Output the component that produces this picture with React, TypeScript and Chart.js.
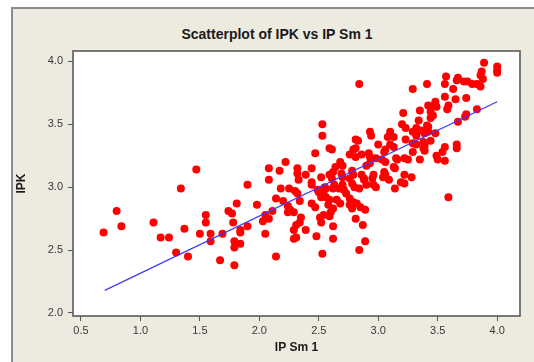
import React, { useEffect, useRef } from 'react';
import { Chart, registerables } from 'chart.js';

Chart.register(...registerables);

// IP Sm 1 (x) values
const ipSm1 = [
  0.69, 0.80, 0.84, 1.11, 1.17, 1.24, 1.34, 1.37, 1.30, 1.40, 1.47, 1.50, 1.55, 1.55, 1.59, 1.59,
  1.67, 1.69, 1.74, 1.77, 1.81, 1.78, 1.84, 1.84, 1.79, 1.79, 1.84, 1.79, 1.90, 1.90, 2.14, 1.98,
  2.53, 2.53, 2.47, 2.22, 2.08, 2.17, 2.32, 2.32, 2.39, 2.44, 2.52, 2.08, 2.33, 2.44, 2.44, 2.18,
  2.25, 2.30, 2.32, 2.49, 2.50, 2.55, 2.14, 2.20, 2.24, 2.26, 2.24, 2.34, 2.44, 2.47, 2.52, 2.11,
  2.29, 2.05, 2.03, 2.08, 2.35, 2.34, 2.31, 2.29, 2.39, 2.51, 2.52, 2.05, 2.48, 2.29, 2.31, 2.53,
  2.81, 2.83, 2.93, 2.94, 2.59, 2.61, 3.00, 2.79, 2.81, 2.76, 2.81, 2.86, 2.92, 2.93, 2.98, 2.68,
  2.70, 2.64, 2.93, 2.90, 2.62, 2.59, 2.61, 2.69, 2.70, 2.78, 2.79, 2.76, 2.86, 2.88, 2.96, 2.95,
  2.56, 2.54, 2.63, 2.62, 2.70, 2.67, 2.71, 2.78, 2.80, 2.88, 2.90, 2.96, 2.98, 2.56, 2.59, 2.58,
  2.73, 2.76, 2.84, 2.65, 2.68, 2.62, 2.79, 2.82, 2.85, 2.76, 2.78, 2.89, 2.54, 2.60, 2.59, 2.81,
  2.87, 2.62, 2.62, 2.89, 2.84,
  3.10, 3.08, 3.13, 3.10, 3.13, 3.06, 3.05, 3.15, 3.16, 3.03, 3.06, 3.13, 3.14, 3.05, 3.06, 3.04,
  3.09, 3.14, 3.23, 3.29, 3.32, 3.38, 3.39, 3.44, 3.38, 3.39, 3.29, 3.56, 3.54, 3.66, 3.66, 3.22,
  3.25, 3.35, 3.49, 3.50, 3.56, 3.22, 3.28, 3.19, 3.22, 3.59,
  3.89, 3.87, 3.86, 3.88, 4.00, 4.00, 4.00, 3.57, 3.67, 3.66, 3.72, 3.75, 3.79, 3.83, 3.86, 3.41,
  3.29, 3.56, 3.63, 3.56, 3.65, 3.74, 3.48, 3.47, 3.49, 3.42, 3.59, 3.58, 3.35, 3.44, 3.46, 3.44,
  3.21, 3.34, 3.83, 3.74, 3.73, 3.67, 3.20, 3.23, 3.41, 3.42, 3.32, 3.36, 3.29, 3.42, 3.39, 3.48,
  3.32, 2.84,
];

// IPK (y) values
const ipk = [
  2.64, 2.81, 2.69, 2.72, 2.60, 2.60, 2.99, 2.67, 2.48, 2.45, 3.14, 2.63, 2.78, 2.72, 2.63, 2.57,
  2.42, 2.63, 2.81, 2.79, 2.87, 2.72, 2.66, 2.64, 2.57, 2.52, 2.55, 2.38, 3.02, 2.69, 2.45, 2.86,
  3.50, 3.41, 3.27, 3.20, 3.15, 3.13, 3.15, 3.11, 3.10, 3.15, 3.08, 3.06, 3.06, 3.04, 3.02, 2.99,
  2.99, 2.97, 2.95, 2.98, 2.96, 3.00, 2.91, 2.89, 2.85, 2.82, 2.80, 2.89, 2.87, 2.84, 2.92, 2.81,
  2.80, 2.78, 2.73, 2.75, 2.76, 2.72, 2.70, 2.66, 2.66, 2.76, 2.72, 2.63, 2.61, 2.59, 2.60, 2.47,
  3.38, 3.37, 3.44, 3.41, 3.31, 3.30, 3.34, 3.30, 3.31, 3.26, 3.24, 3.26, 3.27, 3.24, 3.23, 3.20,
  3.17, 3.16, 3.19, 3.17, 3.12, 3.10, 3.07, 3.11, 3.08, 3.13, 3.10, 3.07, 3.10, 3.07, 3.10, 3.07,
  2.99, 2.95, 3.02, 2.99, 3.02, 2.99, 2.98, 3.03, 3.00, 3.06, 3.02, 3.02, 3.00, 2.92, 2.90, 2.86,
  2.95, 2.91, 2.99, 2.90, 2.87, 2.83, 2.88, 2.87, 2.84, 2.86, 2.83, 2.82, 2.78, 2.80, 2.77, 2.75,
  2.70, 2.69, 2.59, 2.57, 2.50,
  3.44, 3.40, 3.40, 3.34, 3.32, 3.30, 3.28, 3.23, 3.22, 3.22, 3.20, 3.16, 3.15, 3.12, 3.10, 3.08,
  3.06, 2.99, 3.38, 3.35, 3.34, 3.36, 3.33, 3.37, 3.31, 3.29, 3.28, 3.32, 3.28, 3.34, 3.31, 3.23,
  3.22, 3.22, 3.25, 3.22, 3.21, 3.10, 3.08, 3.04, 3.03, 2.92,
  3.99, 3.92, 3.89, 3.86, 3.96, 3.93, 3.91, 3.88, 3.87, 3.85, 3.84, 3.84, 3.82, 3.82, 3.80, 3.82,
  3.78, 3.82, 3.78, 3.72, 3.70, 3.71, 3.68, 3.65, 3.64, 3.65, 3.65, 3.62, 3.61, 3.60, 3.57, 3.55,
  3.59, 3.53, 3.62, 3.58, 3.56, 3.52, 3.50, 3.47, 3.49, 3.48, 3.47, 3.45, 3.44, 3.44, 3.43, 3.43,
  3.41, 3.82,
];

// Fitted regression line end points
const fitX = [0.70, 4.00];
const fitY = [2.18, 3.68];

const xTickValues = [0.5, 1.0, 1.5, 2.0, 2.5, 3.0, 3.5, 4.0];
const yTickValues = [2.0, 2.5, 3.0, 3.5, 4.0];

const chartTitle = 'Scatterplot of IPK vs IP Sm 1';
const xTitle = 'IP Sm 1';
const yTitle = 'IPK';

const FONT = "'Liberation Sans', Arial, sans-serif";

const plotFrame = {
  id: 'plotFrame',
  beforeDraw(chart: any) {
    const { ctx, chartArea } = chart;
    const { left, top, right, bottom } = chartArea;
    ctx.save();
    ctx.fillStyle = '#ffffff';
    ctx.fillRect(left, top, right - left, bottom - top);
    ctx.restore();
  },
  afterDatasetsDraw(chart: any) {
    const { ctx, chartArea } = chart;
    const { left, top, right, bottom } = chartArea;
    ctx.save();
    ctx.strokeStyle = '#5a5a5a';
    ctx.lineWidth = 1.6;
    ctx.strokeRect(left, top, right - left, bottom - top);
    ctx.restore();
  },
};

export default function App() {
  const canvasRef = useRef<HTMLCanvasElement | null>(null);

  useEffect(() => {
    const canvas = canvasRef.current;
    if (!canvas) return;
    const points = ipSm1.map((x, i) => ({ x, y: ipk[i] }));
    const fitPoints = fitX.map((x, i) => ({ x, y: fitY[i] }));

    const chart = new Chart(canvas, {
      type: 'scatter',
      data: {
        datasets: [
          {
            type: 'line',
            label: 'Fit',
            data: fitPoints,
            borderColor: '#3a3aff',
            borderWidth: 1.2,
            pointRadius: 0,
            fill: false,
            showLine: true,
            order: 0,
          } as any,
          {
            label: 'IPK',
            data: points,
            backgroundColor: '#ff0000',
            borderWidth: 0,
            pointRadius: 4,
            pointHoverRadius: 4,
            order: 1,
          },
        ],
      },
      options: {
        responsive: false,
        animation: false,
        devicePixelRatio: 1,
        layout: { padding: { top: 51, left: 10, right: 14, bottom: 0 } },
        plugins: {
          legend: { display: false },
          title: { display: false },
          tooltip: { enabled: false },
        },
        scales: {
          x: {
            type: 'linear',
            min: 0.433,
            max: 4.192,
            afterBuildTicks: (scale: any) => {
              scale.ticks = xTickValues.map((v) => ({ value: v }));
            },
            afterFit: (scale: any) => {
              scale.height = 46;
            },
            ticks: {
              callback: (v: any) => Number(v).toFixed(1),
              color: '#383838',
              font: { family: FONT, size: 11 },
              padding: 3,
              maxRotation: 0,
              autoSkip: false,
            },
            grid: {
              drawOnChartArea: false,
              drawTicks: true,
              tickLength: 5,
              color: '#555555',
              tickWidth: 1,
            },
            border: { display: false },
            title: {
              display: true,
              text: xTitle,
              color: '#1a1a1a',
              font: { family: FONT, size: 12, weight: 'bold' },
              padding: { top: 0, bottom: 6.8 },
            },
          },
          y: {
            type: 'linear',
            min: 1.976,
            max: 4.083,
            afterBuildTicks: (scale: any) => {
              scale.ticks = yTickValues.map((v) => ({ value: v }));
            },
            afterFit: (scale: any) => {
              scale.width = 63;
            },
            ticks: {
              callback: (v: any) => Number(v).toFixed(1),
              color: '#383838',
              font: { family: FONT, size: 11 },
              padding: 5,
              autoSkip: false,
            },
            grid: {
              drawOnChartArea: false,
              drawTicks: true,
              tickLength: 5,
              color: '#555555',
              tickWidth: 1,
            },
            border: { display: false },
            title: {
              display: true,
              text: yTitle,
              color: '#1a1a1a',
              font: { family: FONT, size: 12, weight: 'bold' },
              padding: { top: 4.8, bottom: 0 },
            },
          },
        },
      },
      plugins: [plotFrame],
    });

    return () => {
      chart.destroy();
    };
  }, []);

  return (
    <div
      style={{
        position: 'fixed',
        left: 0,
        top: 0,
        width: 534,
        height: 362,
        background: '#ffffff',
        overflow: 'hidden',
      }}
    >
      <div
        style={{
          position: 'absolute',
          left: 11,
          top: 7,
          width: 560,
          height: 400,
          background: '#edeae0',
          borderLeft: '2px solid #8c8c8c',
          borderTop: '2px solid #8c8c8c',
        }}
      />
      <div
        style={{
          position: 'absolute',
          left: 167,
          top: 24,
          width: 220,
          textAlign: 'center',
          fontFamily: FONT,
          fontWeight: 'bold',
          fontSize: 14,
          lineHeight: '20px',
          color: '#1a1a1a',
          whiteSpace: 'nowrap',
        }}
      >
        {chartTitle}
      </div>
      <canvas
        ref={canvasRef}
        width={534}
        height={362}
        style={{ position: 'absolute', left: 0, top: 0, width: 534, height: 362 }}
      />
    </div>
  );
}
